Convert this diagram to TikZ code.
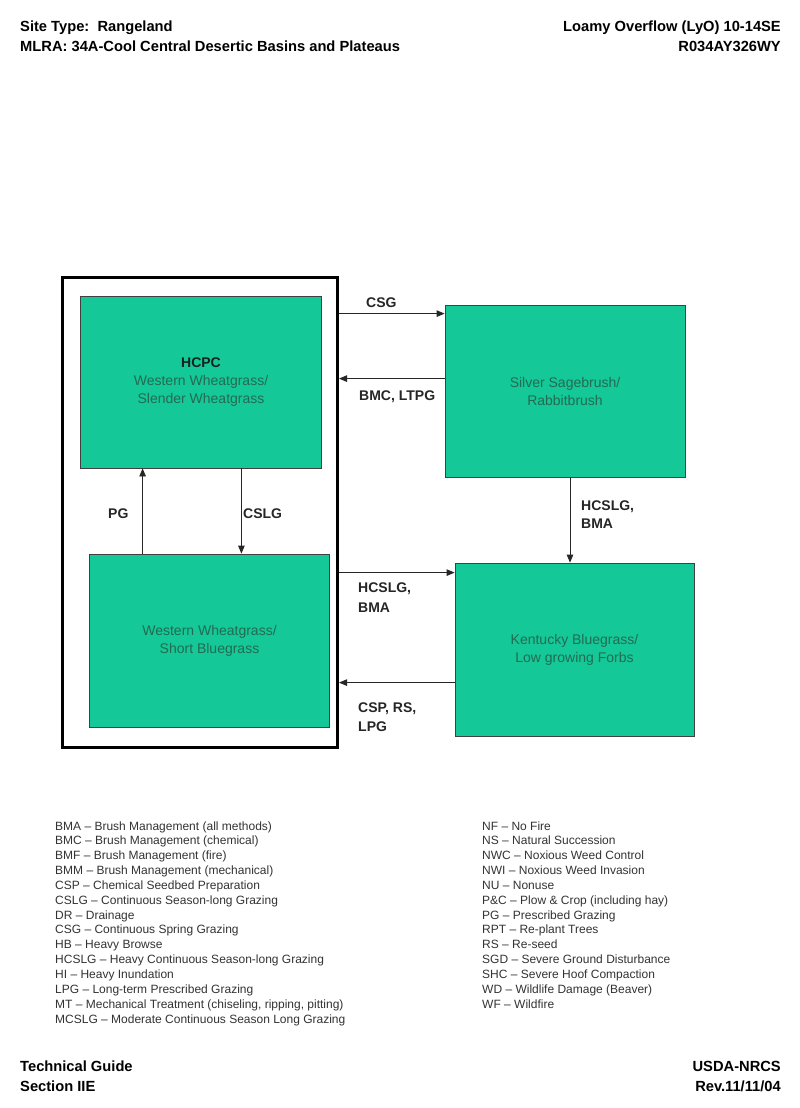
\documentclass[tikz,border=0pt]{standalone}
\usepackage{fontspec}
\setmainfont{Liberation Sans}
\usetikzlibrary{arrows.meta}
\definecolor{boxfill}{HTML}{14C898}
\definecolor{boxtext}{HTML}{236B52}
\definecolor{hcpctext}{HTML}{15231F}
\definecolor{legtext}{HTML}{333333}
\begin{document}
\begin{tikzpicture}[x=1pt,y=-1pt,
  state/.style={draw=black!75, line width=0.8pt, fill=boxfill, align=center,
    font=\fontsize{14}{18}\selectfont, text=boxtext, inner sep=0pt},
  outerbox/.style={draw=black, line width=3pt, inner sep=0pt},
  arr/.style={-{Triangle[length=8pt,width=6.5pt]}, line width=0.8pt, black!85},
  lab/.style={font=\fontsize{14}{19}\bfseries\selectfont, anchor=base west, inner sep=0pt, text=black!85},
  hdr/.style={font=\fontsize{14.7}{20}\bfseries\selectfont, inner sep=0pt},
  leg/.style={font=\fontsize{12}{14.8}\selectfont, text=legtext, anchor=base west, inner sep=0pt}
]
\useasboundingbox (0,0) rectangle (800,1108);
\fill[white] (0,0) rectangle (800,1108);

% header
\node[hdr, anchor=base west] (h1) at (20,31.5) {Site Type:\ \ Rangeland};
\node[hdr, anchor=base west] (h2) at (20,51.5) {MLRA: 34A-Cool Central Desertic Basins and Plateaus};
\node[hdr, anchor=base east] (h3) at (781,31.5) {Loamy Overflow (LyO) 10-14SE};
\node[hdr, anchor=base east] (h4) at (781,51.5) {R034AY326WY};

% outer reference box
\node[outerbox, minimum width=275pt, minimum height=470pt] (outer) at (200,512) {};

% states
\node[state, minimum width=241pt, minimum height=172pt] (hcpc) at (201,382)
  {{\color{hcpctext}\bfseries HCPC}\\Western Wheatgrass/\\Slender Wheatgrass};
\node[state, minimum width=240pt, minimum height=172pt] (silver) at (565,391)
  {Silver Sagebrush/\\Rabbitbrush};
\node[state, minimum width=240pt, minimum height=173pt] (wwsb) at (209.5,640.5)
  {Western Wheatgrass/\\Short Bluegrass};
\node[state, minimum width=239pt, minimum height=173pt] (kent) at (574.5,649.5)
  {Kentucky Bluegrass/\\Low growing Forbs};

% connectors
\coordinate (csgEnd) at ([yshift=-9pt]silver.north west);
\draw[arr] (outer.east |- csgEnd) -- (csgEnd);
\coordinate (bmcStart) at ([yshift=-74pt]silver.north west);
\draw[arr] (bmcStart) -- (outer.east |- bmcStart);
\coordinate (svStart) at ([xshift=5pt]silver.south);
\draw[arr] (svStart) -- (kent.north -| svStart);
\coordinate (pgStart) at ([xshift=53.5pt]wwsb.north west);
\draw[arr] (pgStart) -- (hcpc.south -| pgStart);
\coordinate (cslgStart) at ([xshift=-80.5pt]hcpc.south east);
\draw[arr] (cslgStart) -- (wwsb.north -| cslgStart);
\coordinate (hcEnd) at ([yshift=-10pt]kent.north west);
\draw[arr] (outer.east |- hcEnd) -- (hcEnd);
\coordinate (cspStart) at ([yshift=-120pt]kent.north west);
\draw[arr] (cspStart) -- (outer.east |- cspStart);

% connector labels
\node[lab] (lcsg) at (366,307) {CSG};
\node[lab] (lbmc) at (359,400) {BMC, LTPG};
\node[lab] (lsv1) at (581,510) {HCSLG,};
\node[lab] (lsv2) at (581,528) {BMA};
\node[lab] (lpg) at (108,518) {PG};
\node[lab] (lcslg) at (243,518) {CSLG};
\node[lab] (lhc1) at (358,592) {HCSLG,};
\node[lab] (lhc2) at (358,612) {BMA};
\node[lab] (lcsp1) at (358,712) {CSP, RS,};
\node[lab] (lcsp2) at (358,731) {LPG};

% legend left
\foreach \t [count=\i from 0] in {
  BMA -- Brush Management (all methods),
  BMC -- Brush Management (chemical),
  BMF -- Brush Management (fire),
  BMM -- Brush Management (mechanical),
  CSP -- Chemical Seedbed Preparation,
  CSLG -- Continuous Season-long Grazing,
  DR -- Drainage,
  CSG -- Continuous Spring Grazing,
  HB -- Heavy Browse,
  HCSLG -- Heavy Continuous Season-long Grazing,
  HI -- Heavy Inundation,
  LPG -- Long-term Prescribed Grazing,
  {MT -- Mechanical Treatment (chiseling, ripping, pitting)},
  MCSLG -- Moderate Continuous Season Long Grazing}
  \node[leg] (legL\i) at (55,830+14.85*\i) {\t};

% legend right
\foreach \t [count=\i from 0] in {
  NF -- No Fire,
  NS -- Natural Succession,
  NWC -- Noxious Weed Control,
  NWI -- Noxious Weed Invasion,
  NU -- Nonuse,
  P\&C -- Plow \& Crop (including hay),
  PG -- Prescribed Grazing,
  RPT -- Re-plant Trees,
  RS -- Re-seed,
  SGD -- Severe Ground Disturbance,
  SHC -- Severe Hoof Compaction,
  WD -- Wildlife Damage (Beaver),
  WF -- Wildfire}
  \node[leg] (legR\i) at (482,830+14.85*\i) {\t};

% footer
\node[hdr, anchor=base west] (f1) at (20,1071.5) {Technical Guide};
\node[hdr, anchor=base west] (f2) at (20,1091.5) {Section IIE};
\node[hdr, anchor=base east] (f3) at (781,1071.5) {USDA-NRCS};
\node[hdr, anchor=base east] (f4) at (781,1091.5) {Rev.11/11/04};
\end{tikzpicture}
\end{document}
